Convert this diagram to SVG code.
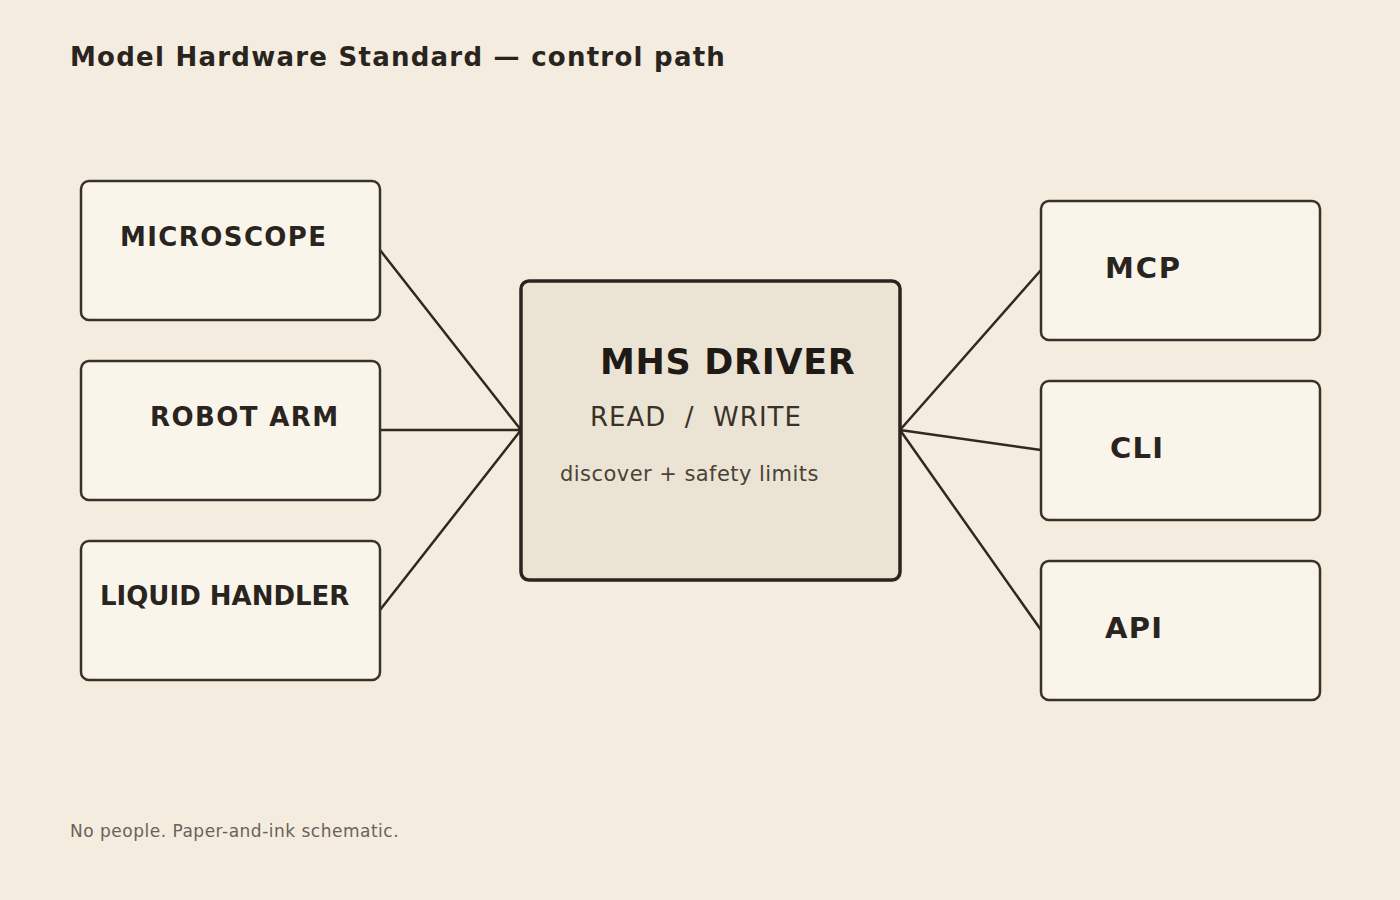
<svg xmlns="http://www.w3.org/2000/svg" width="1400" height="900" viewBox="0 0 1400 900">
<style>
.n{fill:#f9f5eb;stroke:#3a3228;stroke-width:2.5}
.c{fill:#ebe4d4;stroke:#2a241e;stroke-width:3.5}
.l{font-family:"DejaVu Sans",sans-serif;font-weight:bold;font-size:26px;fill:#2a241e;letter-spacing:1.4px}
.r{font-size:29px;letter-spacing:1.3px}
.e{stroke:#2f2922;stroke-width:2.5;fill:none}
</style>
<rect width="1400" height="900" fill="#f3ecdf"/>
<text x="70" y="66" font-family="DejaVu Sans,sans-serif" font-weight="bold" font-size="26" fill="#2a241e" letter-spacing="1.25">Model Hardware Standard — control path</text>
<g id="connectors">
<path class="e" d="M380 250L521 430M380 430H521M380 610L521 430M900 430L1041 270M900 430L1041 450M900 430L1041 630"/>
</g>
<g id="microscope"><rect class="n" x="81" y="181" width="299" height="139" rx="8"/><text class="l" x="120" y="246">MICROSCOPE</text></g>
<g id="robot-arm"><rect class="n" x="81" y="361" width="299" height="139" rx="8"/><text class="l" x="150" y="426">ROBOT ARM</text></g>
<g id="liquid-handler"><rect class="n" x="81" y="541" width="299" height="139" rx="8"/><text class="l" x="100" y="605" style="letter-spacing:0">LIQUID HANDLER</text></g>
<g id="mhs-driver"><rect class="c" x="521" y="281" width="379" height="299" rx="8"/>
<text x="600" y="374" font-family="DejaVu Sans,sans-serif" font-weight="bold" font-size="35" fill="#1f1a15" letter-spacing="0.7">MHS DRIVER</text>
<text x="590" y="426" font-family="DejaVu Sans,sans-serif" font-size="26" fill="#3a3228" letter-spacing="1" xml:space="preserve">READ  /  WRITE</text>
<text x="560" y="481" font-family="DejaVu Sans,sans-serif" font-size="21" fill="#4a4238" letter-spacing="0.45">discover + safety limits</text></g>
<g id="mcp"><rect class="n" x="1041" y="201" width="279" height="139" rx="8"/><text class="l r" x="1105" y="278" style="letter-spacing:1.8px">MCP</text></g>
<g id="cli"><rect class="n" x="1041" y="381" width="279" height="139" rx="8"/><text class="l r" x="1110" y="458">CLI</text></g>
<g id="api"><rect class="n" x="1041" y="561" width="279" height="139" rx="8"/><text class="l r" x="1105" y="638">API</text></g>
<text x="70" y="837" font-family="DejaVu Sans,sans-serif" font-size="17" fill="#6a6258" letter-spacing="0.5">No people. Paper-and-ink schematic.</text>
</svg>
